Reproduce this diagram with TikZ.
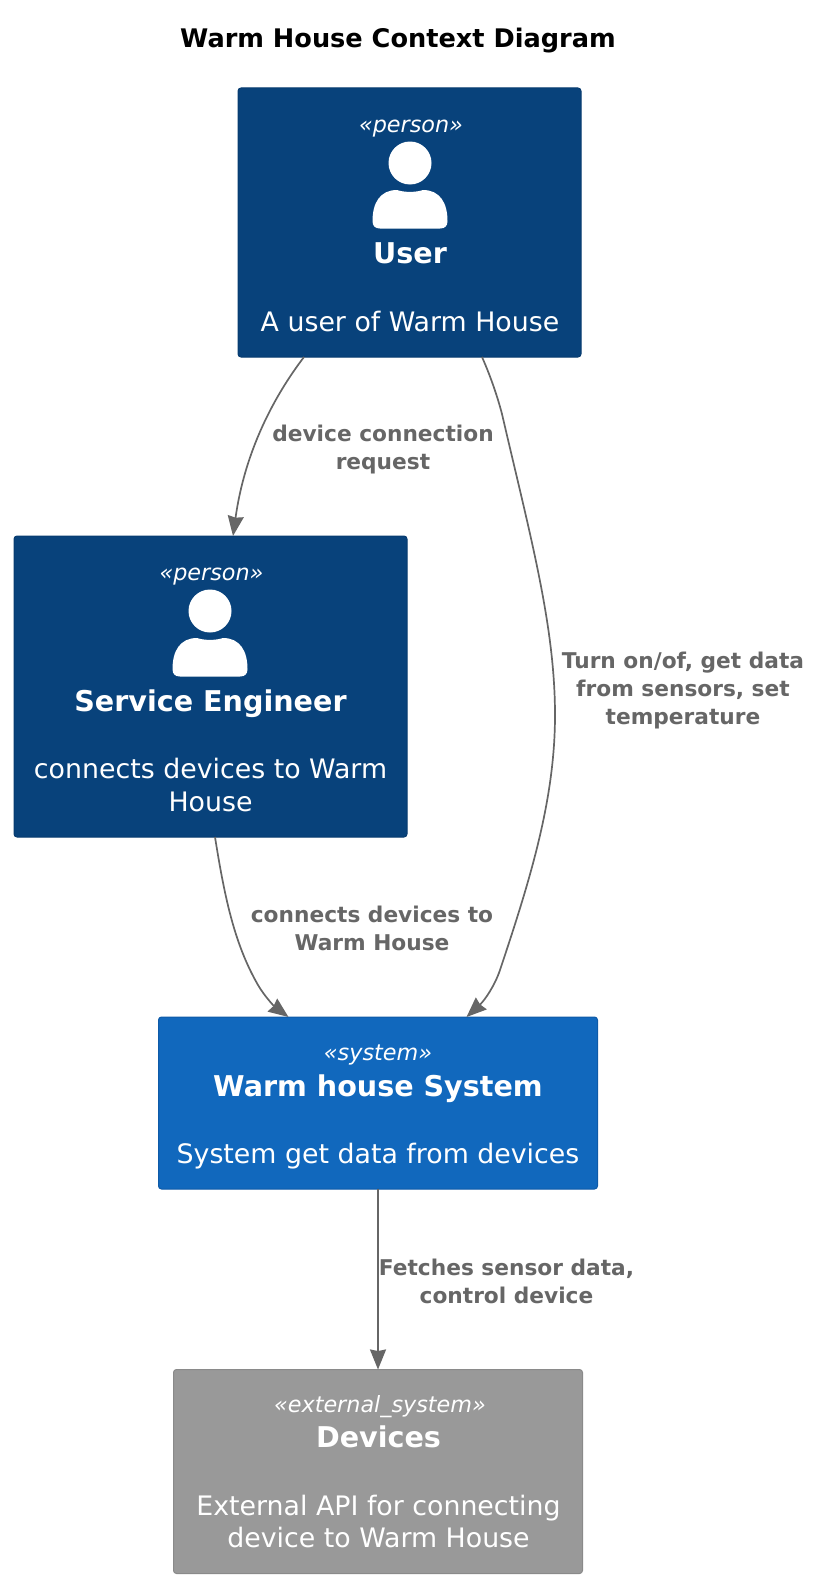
\documentclass[tikz,border=0pt]{standalone}
\usepackage{fontspec}
\setmainfont{DejaVu Sans}
\usetikzlibrary{arrows.meta,calc}
\definecolor{darkblue}{HTML}{08427B}
\definecolor{darkedge}{HTML}{073B6F}
\definecolor{sysblue}{HTML}{1168BD}
\definecolor{sysedge}{HTML}{0E5AA7}
\definecolor{extgray}{HTML}{999999}
\definecolor{extedge}{HTML}{8A8A8A}
\definecolor{linkgray}{HTML}{666666}
\newcommand{\fsz}[1]{\fontsize{#1}{#1}\selectfont}
\tikzset{
  x=1pt,y=-1pt,
  boxstyle/.style={rounded corners=3pt,line width=1pt,anchor=north west,inner sep=0pt,outer sep=0pt},
  stereo/.style={text=white,font=\fsz{22.3}\itshape,inner sep=0pt,anchor=base},
  titlelabel/.style={text=white,font=\fsz{28.6}\bfseries,inner sep=0pt,anchor=base},
  desc/.style={text=white,font=\fsz{26.8},inner sep=0pt,anchor=base,align=center},
  linklabel/.style={text=linkgray,font=\fsz{21.7}\bfseries,inner sep=0pt,anchor=base,align=center},
  conn/.style={draw=linkgray,line width=1.7pt,-{Stealth[length=20pt,width=16pt,inset=1.5pt]}},
  personicon/.pic={
    \fill[white] (0,-26) circle (21.5);
    \fill[white] (-37.5,32) .. controls (-37.5,14) and (-30,1) .. (-13,1)
      .. controls (-6,3.5) and (6,3.5) .. (13,1)
      .. controls (30,1) and (37.5,14) .. (37.5,32)
      .. controls (37.5,37) and (35,39.5) .. (30,39.5)
      -- (-30,39.5) .. controls (-35,39.5) and (-37.5,37) .. (-37.5,32) -- cycle;
  }
}
\begin{document}
\begin{tikzpicture}
\useasboundingbox (0,0) rectangle (822,1584);
\node[text=black,font=\fsz{25.6}\bfseries,inner sep=0pt,anchor=base] (title) at (398,47.5) {Warm House Context Diagram};

\node[boxstyle,fill=darkblue,draw=darkedge,minimum width=343pt,minimum height=269pt] (user) at (238,88) {};
\node[boxstyle,fill=darkblue,draw=darkedge,minimum width=393pt,minimum height=301pt] (eng) at (14,536) {};
\node[boxstyle,fill=sysblue,draw=sysedge,minimum width=439pt,minimum height=172pt] (sys) at (158.5,1017) {};
\node[boxstyle,fill=extgray,draw=extedge,minimum width=409pt,minimum height=204pt] (dev) at (173.5,1369.5) {};

\node[stereo] (s1) at (411,132) {«person»};
\pic at (410,189) {personicon};
\node[titlelabel] (t1) at (410,263) {User};
\node[desc] (d1) at (410,331) {A user of Warm House};

\node[stereo] (s2) at (211.5,580) {«person»};
\pic at (210,637) {personicon};
\node[titlelabel] (t2) at (210.5,711) {Service Engineer};
\node[desc] (d2a) at (210.5,778) {connects devices to Warm};
\node[desc] (d2b) at (210.5,811) {House};

\node[stereo] (s3) at (378,1060) {«system»};
\node[titlelabel] (t3) at (378,1096) {Warm house System};
\node[desc] (d3) at (378,1163) {System get data from devices};

\node[stereo] (s4) at (380,1412) {«external\_system»};
\node[titlelabel] (t4) at (378.5,1447) {Devices};
\node[desc] (d4a) at (378.5,1515) {External API for connecting};
\node[desc] (d4b) at (378.5,1547.5) {device to Warm House};

\draw[conn] ($(user.south west)+(66,0)$) .. controls (275,395) and (245,450) .. ($(eng.north west)+(219,0)$);
\draw[conn] ($(user.south west)+(244,0)$) .. controls (490,375) and (497,395) .. (502,414)
  .. controls (530,535) and (555,625) .. (555,715)
  .. controls (555,800) and (530,880) .. (500,970)
  .. controls (495,985) and (485,1000) .. ($(sys.north west)+(308,0)$);
\draw[conn] ($(eng.south west)+(201,0)$) .. controls (225,900) and (235,945) .. (258,985)
  .. controls (265,997) and (275,1007) .. ($(sys.north west)+(130,0)$);
\draw[conn] (sys.south) -- (sys.south |- dev.north);

\node[linklabel] (l1a) at (383,441) {device connection};
\node[linklabel] (l1b) at (383,469) {request};
\node[linklabel] (l2a) at (683,668) {Turn on/of, get data};
\node[linklabel] (l2b) at (683,696) {from sensors, set};
\node[linklabel] (l2c) at (683,724) {temperature};
\node[linklabel] (l3a) at (372,922) {connects devices to};
\node[linklabel] (l3b) at (372,950) {Warm House};
\node[linklabel] (l4a) at (506.5,1275) {Fetches sensor data,};
\node[linklabel] (l4b) at (506.5,1303) {control device};
\end{tikzpicture}
\end{document}
